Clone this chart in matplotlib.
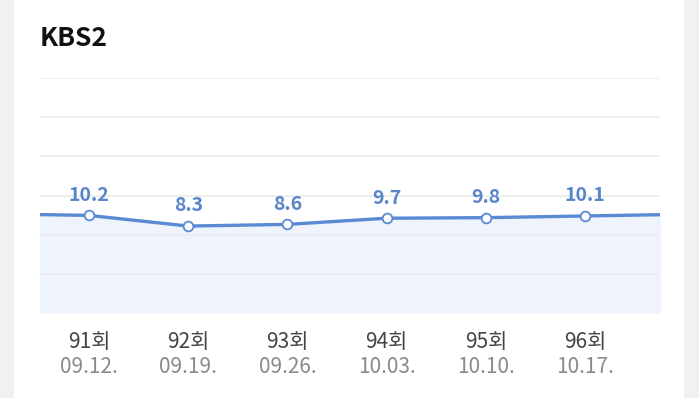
import matplotlib.pyplot as plt
import numpy as np
from matplotlib.patches import Rectangle

plt.rcParams['font.family'] = ['Noto Sans CJK KR', 'DejaVu Sans']

# episodes shown, plus neighbours cut off at the edges
episodes = ['91회', '92회', '93회', '94회', '95회', '96회']
dates = ['09.12.', '09.19.', '09.26.', '10.03.', '10.10.', '10.17.']
ratings = [10.2, 8.3, 8.6, 9.7, 9.8, 10.1]
prev_rating = 10.5   # 90회, off the left edge
next_rating = 10.4   # 97회, off the right edge

line_color = '#5a8ad3'
label_color = '#5a86c9'
fill_color = '#eef3fc'
grid_color = '#ebebeb'

fig = plt.figure(figsize=(6.99, 3.98), dpi=100)
fig.patch.set_facecolor('white')

# gray margins of the screenshot card
fig.patches.append(Rectangle((0, 0), 14 / 699, 1, transform=fig.transFigure,
                             facecolor='#f1f1f1', edgecolor='none', zorder=0))
fig.patches.append(Rectangle((684 / 699, 0), 15 / 699, 1, transform=fig.transFigure,
                             facecolor='#f1f1f1', edgecolor='none', zorder=0))

ax = fig.add_axes([40 / 699, 85 / 398, 620 / 699, 235 / 398])

x = np.arange(len(ratings))
x_all = np.concatenate([[-1], x, [len(ratings)]])
y_all = [prev_rating] + ratings + [next_rating]

ymin, ymax = -7.2, 34.7
ax.set_xlim(-0.494, 5.756)
ax.set_ylim(ymin, ymax)

ax.fill_between(x_all, y_all, ymin, color=fill_color, lw=0, zorder=1)
for gy in np.linspace(ymin, ymax, 7)[1:]:
    ax.axhline(gy, color=grid_color, lw=1.2, zorder=2)
ax.plot(x_all, y_all, color=line_color, lw=2.4, zorder=3)
ax.plot(x, ratings, 'o', ms=7, mfc='white', mec=line_color, mew=1.3, zorder=4)

for xi, v in zip(x, ratings):
    ax.annotate(f'{v}', (xi, v), xytext=(0, 14.5), textcoords='offset points',
                ha='center', va='center', fontsize=14, fontweight='bold',
                color=label_color)

ax.set_xticks([])
ax.set_yticks([])
for s in ax.spines.values():
    s.set_visible(False)

for xi, ep, d in zip(x, episodes, dates):
    ax.annotate(ep, (xi, 0), xycoords=('data', 'axes fraction'),
                xytext=(0, -21), textcoords='offset points',
                ha='center', va='center', fontsize=15, color='#444444')
    ax.annotate(d, (xi, 0), xycoords=('data', 'axes fraction'),
                xytext=(0, -39), textcoords='offset points',
                ha='center', va='center', fontsize=15, color='#8a8a8a',
                fontweight='light')

fig.text(40 / 699, 1 - 38 / 398, 'KBS2', fontsize=19, fontweight='bold',
         color='#111111', ha='left', va='center')

fig.savefig('out.png', dpi=100)
